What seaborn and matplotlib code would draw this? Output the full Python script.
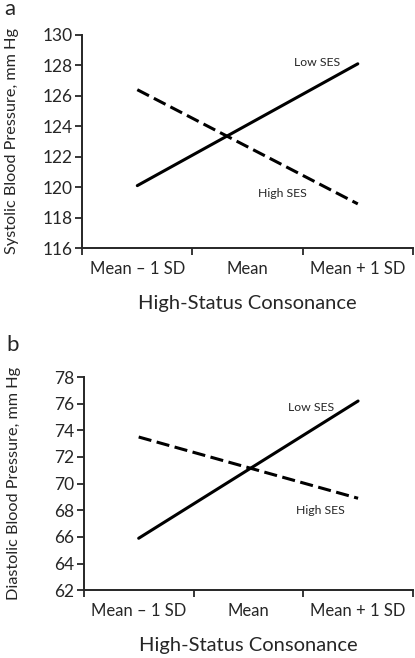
import pandas as pd
import seaborn as sns
import matplotlib.pyplot as plt
import numpy as np

# Data
levels = ['Mean – 1 SD', 'Mean', 'Mean + 1 SD']
groups = ['Low SES', 'High SES']
sys_low = [120.1, 124.1, 128.1]
sys_high = [126.4, 122.65, 118.9]
dia_low = [65.9, 71.05, 76.2]
dia_high = [73.5, 71.2, 68.9]

sns.set_style('ticks')
plt.rcParams['font.family'] = ['Lato', 'DejaVu Sans']


def make_df(low, high):
    return pd.DataFrame({
        'level': levels * 2,
        'bp': low + high,
        'group': [groups[0]] * 3 + [groups[1]] * 3})


fig = plt.figure(figsize=(4.15, 6.58), dpi=100)
ax_a = fig.add_axes([0.198, 0.623, 0.797, 0.324])
ax_b = fig.add_axes([0.202, 0.103, 0.793, 0.324])

panels = [
    (ax_a, make_df(sys_low, sys_high), (116, 130), 'Systolic Blood Pressure, mm Hg', 'a', 1.12,
     [(1.63, 128.2, 'Low SES'), (1.32, 119.6, 'High SES')]),
    (ax_b, make_df(dia_low, dia_high), (62, 78), 'Diastolic Blood Pressure, mm Hg', 'b', 1.15,
     [(1.57, 75.75, 'Low SES'), (1.66, 68.0, 'High SES')]),
]

for ax, df, ylim, ylabel, letter, ly, notes in panels:
    sns.lineplot(
        data=df,
        x='level',
        y='bp',
        hue='group',
        style='group',
        palette={'Low SES': 'black', 'High SES': 'black'},
        dashes={'Low SES': '', 'High SES': (4.3, 1.8)},
        linewidth=2.2,
        legend=False,
        ax=ax)
    ax.set_xlim(-0.5, 2.5)
    ax.set_ylim(*ylim)
    ax.set_yticks(np.arange(ylim[0], ylim[1] + 1, 2))
    ax.set_xticks([-0.5, 0.5, 1.5, 2.5])
    ax.set_xticklabels([])
    ax.set_xticks([0, 1, 2], minor=True)
    ax.set_xticklabels(levels, minor=True, fontsize=12)
    ax.tick_params(axis='x', which='minor', length=0, pad=9)
    ax.tick_params(axis='x', which='major', length=5, width=1.3, direction='out')
    ax.tick_params(axis='y', length=5, width=1.3, labelsize=12.5, pad=2)
    for s in ['left', 'bottom']:
        ax.spines[s].set_linewidth(1.4)
    sns.despine(ax=ax)
    ax.set_ylabel(ylabel, fontsize=11.7)
    ax.yaxis.set_label_coords(-0.19, 0.5)
    ax.set_xlabel('High-Status Consonance', fontsize=14.5)
    ax.xaxis.set_label_coords(0.5, -0.22)
    for x, y, t in notes:
        ax.text(x, y, t, fontsize=8.8, ha='center', va='center')
    ax.text(-0.235, ly, letter, transform=ax.transAxes, fontsize=16, va='center')

fig.savefig('out.png', dpi=100)
